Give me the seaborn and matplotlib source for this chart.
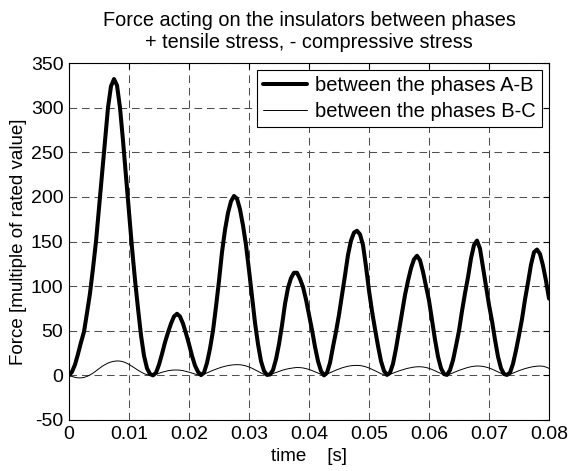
import numpy as np
import pandas as pd
import matplotlib
matplotlib.use("Agg")
import matplotlib.pyplot as plt
import seaborn as sns

# Time base: 0 .. 0.08 s sampled every 0.5 ms
time_s = np.round(np.arange(161) * 0.0005, 4)

# Force between phases A-B (multiple of rated value)
force_ab = [
    0, 4, 12, 24, 37, 49, 70, 92, 120, 150,
    187, 225, 263, 300, 324, 332, 325, 300, 263, 223,
    182, 143, 107, 75, 45, 22, 8, 1.5, 0, 3,
    12, 24, 37, 48, 58, 66, 69, 66, 58, 47,
    35, 22, 11, 4, 0.3, 3, 14, 30, 50, 77,
    106, 138, 163, 182, 195, 201, 198, 186, 168, 146,
    118, 88, 59, 35, 16, 5, 0.5, 1, 6, 18,
    35, 56, 80, 98, 109, 115, 115, 108, 99, 85,
    68, 51, 32, 16, 5, 0, 3, 14, 32, 49,
    68, 90, 112, 135, 151, 160, 162, 158, 146, 122,
    95, 72, 52, 33, 16, 5, 0.5, 3, 13, 30,
    50, 70, 90, 106, 120, 130, 134, 129, 116, 100,
    84, 62, 40, 21, 8, 1.5, 0.5, 6, 17, 33,
    50, 72, 92, 110, 131, 146, 151, 142, 121, 100,
    79, 61, 40, 21, 8, 1.5, 0.5, 3, 13, 28,
    45, 63, 85, 104, 124, 138, 141, 136, 123, 106,
    86,
]

# Force between phases B-C (multiple of rated value)
force_bc = [
    0, -1.2, -2.2, -2.8, -2.8, -2.3, -1.2, 0.5, 2.5, 5,
    7.5, 10, 12, 13.8, 15, 15.8, 16.2, 16, 15.3, 14,
    12.3, 10.2, 8, 5.8, 3.8, 2, 0.8, 0.2, 0, 1.2,
    2.4, 3.5, 4.4, 5.2, 5.7, 6, 6, 5.8, 5.3, 4.5,
    3.6, 2.5, 1.5, 0.6, 0.1, 1.3, 2.8, 4.3, 5.7, 7,
    8.2, 9.3, 10.2, 11, 11.5, 11.9, 12, 11.9, 11.4, 10.6,
    9.4, 8, 6.3, 4.5, 2.7, 1.1, 0.2, 0.8, 2, 3.3,
    4.5, 5.6, 6.6, 7.4, 8, 8.5, 8.8, 8.7, 8.3, 7.6,
    6.6, 5.4, 4, 2.6, 1.2, 0, 1.5, 3, 4.5, 5.9,
    7.2, 8.4, 9.4, 10.2, 10.8, 11.1, 11.2, 11, 10.4, 9.5,
    8.3, 6.8, 5.2, 3.5, 1.9, 0.6, 0.1, 1.2, 2.5, 3.8,
    5, 6.1, 7.1, 8, 8.7, 9.3, 9.6, 9.7, 9.4, 8.8,
    7.9, 6.6, 5.1, 3.5, 2, 0.6, 0.1, 1.5, 2.9, 4.3,
    5.6, 6.8, 7.9, 8.9, 9.7, 10.2, 10.5, 10.4, 10, 9.3,
    8.3, 7, 5.5, 3.9, 2.3, 0.8, 0.1, 1.2, 2.6, 4,
    5.3, 6.5, 7.6, 8.5, 9.3, 9.9, 10.3, 10.5, 10.2, 9.3,
    7.9,
]

series_labels = ["between the phases A-B", "between the phases B-C"]
x_ticks = [0, 0.01, 0.02, 0.03, 0.04, 0.05, 0.06, 0.07, 0.08]
x_tick_labels = ["0", "0.01", "0.02", "0.03", "0.04", "0.05", "0.06", "0.07", "0.08"]
y_ticks = [-50, 0, 50, 100, 150, 200, 250, 300, 350]

sns.set_style("white")
plt.rcParams["font.family"] = ["Liberation Sans", "DejaVu Sans"]
plt.rcParams["lines.scale_dashes"] = False
plt.rcParams["axes.unicode_minus"] = False
plt.rcParams["text.color"] = "black"
plt.rcParams["axes.labelcolor"] = "black"
plt.rcParams["xtick.color"] = "black"
plt.rcParams["ytick.color"] = "black"

df = pd.DataFrame({"t": time_s, "ab": force_ab, "bc": force_bc})

fig = plt.figure(figsize=(5.68, 4.71), dpi=100)
ax = fig.add_axes([69 / 568, 1 - 420 / 471, 480 / 568, 357 / 471])

sns.lineplot(data=df, x="t", y="ab", ax=ax, color="black", linewidth=2.9,
             label=series_labels[0], sort=False, estimator=None)
sns.lineplot(data=df, x="t", y="bc", ax=ax, color="black", linewidth=0.7,
             label=series_labels[1], sort=False, estimator=None)

ax.set_xlim(0, 0.08)
ax.set_ylim(-50, 350)
ax.set_xticks(x_ticks)
ax.set_xticklabels(x_tick_labels)
ax.set_yticks(y_ticks)

ax.grid(True, color="#505050", linestyle=(0, (5.5, 3.5)), linewidth=0.75)
for sp in ax.spines.values():
    sp.set_color("black")
    sp.set_linewidth(0.8)
ax.tick_params(direction="in", length=4, width=0.8, top=True, right=True,
               labelsize=14, colors="black", pad=4)

ax.set_xlabel("time    [s]", fontsize=13.5, labelpad=4, color="black")
ax.set_ylabel("Force [multiple of rated value]", fontsize=13.5, labelpad=3, color="black")
ax.set_title("Force acting on the insulators between phases\n+ tensile stress, - compressive stress",
             fontsize=14.3, pad=11, linespacing=1.2, color="black")

leg = ax.legend(loc="upper right", fontsize=14.5, frameon=True, fancybox=False,
                edgecolor="black", framealpha=1, handlelength=2.2,
                borderpad=0.3, labelspacing=0.33, handletextpad=0.4,
                borderaxespad=0.35)
leg.get_frame().set_linewidth(0.8)
for txt in leg.get_texts():
    txt.set_color("black")

fig.savefig("out.png", dpi=100)
